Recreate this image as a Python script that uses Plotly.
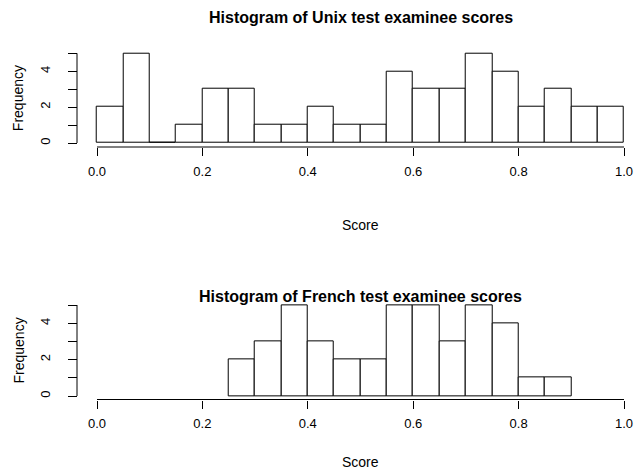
import plotly.graph_objects as go

W, H = 635, 470

bin_left = [0.00, 0.05, 0.10, 0.15, 0.20, 0.25, 0.30, 0.35, 0.40, 0.45,
            0.50, 0.55, 0.60, 0.65, 0.70, 0.75, 0.80, 0.85, 0.90, 0.95]
bin_width = 0.05
unix_counts = [2, 5, 0, 1, 3, 3, 1, 1, 2, 1, 1, 4, 3, 3, 5, 4, 2, 3, 2, 2]
french_counts = [0, 0, 0, 0, 0, 2, 3, 5, 3, 2, 2, 5, 5, 3, 5, 4, 1, 1, 0, 0]

x_ticks = [0.0, 0.2, 0.4, 0.6, 0.8, 1.0]
x_ticktext = ["0.0", "0.2", "0.4", "0.6", "0.8", "1.0"]
y_ticks = [0, 1, 2, 3, 4, 5]
y_ticktext = ["0", "", "2", "", "4", ""]

titles = ["Histogram of Unix test examinee scores",
          "Histogram of French test examinee scores"]

FONT = "Liberation Sans, Arial, Helvetica, sans-serif"


def fx(p):
    return p / W


def fy(p):
    return 1 - p / H


fig = go.Figure()

panels = [
    dict(counts=unix_counts, y0=143, y5=53.3, xline=147, xa="x", ya="y",
         title_y=18, score_y=225),
    dict(counts=french_counts, y0=396, y5=305, xline=399.5, xa="x2", ya="y2",
         title_y=296, score_y=462),
]

x_left_px, x_right_px = 97, 624
yaxis_px = 77
XR = [-0.01, 1.01]
YR = [-0.1, 5.2]
xscale = (x_right_px - x_left_px) / 1.0

for i, p in enumerate(panels):
    yscale = (p["y0"] - p["y5"]) / 5.0
    xs = [b for b, c in zip(bin_left, p["counts"]) if c > 0 or i == 0]
    ys = [c for b, c in zip(bin_left, p["counts"]) if c > 0 or i == 0]
    fig.add_trace(go.Bar(
        x=xs, y=ys, width=bin_width, offset=0,
        marker=dict(color="white", line=dict(color="black", width=1)),
        xaxis=p["xa"], yaxis=p["ya"], cliponaxis=False, showlegend=False,
        hoverinfo="skip",
    ))
    sfx = "" if i == 0 else "2"
    dom_x = [fx(x_left_px + XR[0] * xscale), fx(x_left_px + XR[1] * xscale)]
    dom_y = [fy(p["y0"] - YR[0] * yscale), fy(p["y0"] - YR[1] * yscale)]
    fig.update_layout(**{
        "xaxis" + sfx: dict(
            domain=dom_x, range=XR,
            anchor="free", position=fy(p["xline"]), automargin=False,
            showline=False,
            ticks="outside", ticklen=8, tickcolor="black", tickwidth=1,
            tickvals=x_ticks, ticktext=x_ticktext, ticklabelstandoff=4,
            tickfont=dict(family=FONT, size=13, color="black"),
            showgrid=False, zeroline=False, fixedrange=True,
        ),
        "yaxis" + sfx: dict(
            domain=dom_y, range=YR,
            anchor="free", position=fx(yaxis_px), automargin=False,
            showline=False,
            ticks="outside", ticklen=9, tickcolor="black", tickwidth=1,
            tickvals=y_ticks, ticktext=y_ticktext, tickangle=-90,
            ticklabelstandoff=13,
            tickfont=dict(family=FONT, size=13, color="black"),
            showgrid=False, zeroline=False, fixedrange=True,
        ),
    })
    # axis lines spanning only the tick range, as in R base graphics
    fig.add_shape(type="line", xref="paper", yref=p["ya"],
                  x0=fx(yaxis_px), x1=fx(yaxis_px), y0=y_ticks[0], y1=y_ticks[-1],
                  line=dict(color="black", width=1))
    fig.add_shape(type="line", xref=p["xa"], yref="paper",
                  x0=x_ticks[0], x1=x_ticks[-1], y0=fy(p["xline"]), y1=fy(p["xline"]),
                  line=dict(color="black", width=1))
    fig.add_annotation(text="<b>" + titles[i] + "</b>", xref="paper", yref="paper",
                       x=fx((x_left_px + x_right_px) / 2), y=fy(p["title_y"]),
                       showarrow=False, font=dict(family=FONT, size=16, color="black"),
                       xanchor="center", yanchor="middle")
    fig.add_annotation(text="Score", xref="paper", yref="paper",
                       x=fx((x_left_px + x_right_px) / 2), y=fy(p["score_y"]),
                       showarrow=False, font=dict(family=FONT, size=14, color="black"),
                       xanchor="center", yanchor="middle")
    fig.add_annotation(text="Frequency", xref="paper", yref="paper",
                       x=fx(18), y=fy((p["y0"] + p["y5"]) / 2), textangle=-90,
                       showarrow=False, font=dict(family=FONT, size=14, color="black"),
                       xanchor="center", yanchor="middle")

fig.update_layout(
    width=W, height=H,
    margin=dict(l=0, r=0, t=0, b=0),
    paper_bgcolor="white", plot_bgcolor="white",
    bargap=0,
)

fig.write_html("out.html")
